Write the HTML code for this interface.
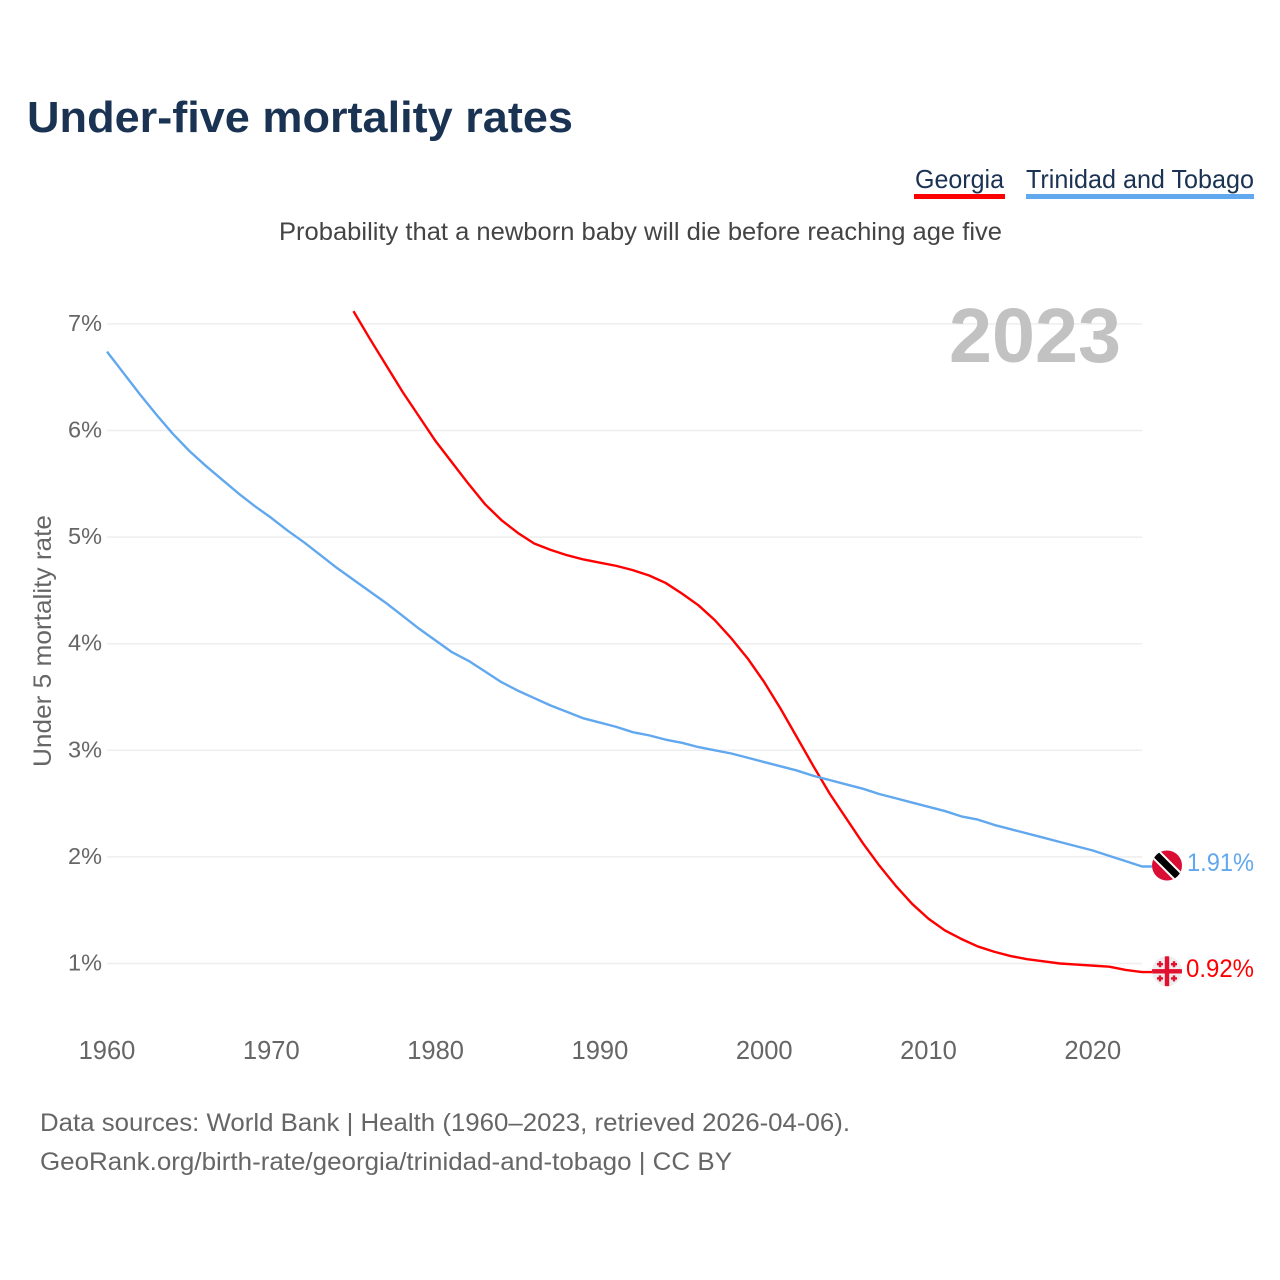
<!DOCTYPE html>
<html lang="en">
<head>
<meta charset="utf-8">
<title>Under-five mortality rates</title>
<style>
html,body{margin:0;padding:0;background:#fff;}
svg{display:block;font-family:"Liberation Sans",sans-serif;}
</style>
</head>
<body>
<svg id="chart" width="1280" height="1280" viewBox="0 0 1280 1280" xmlns="http://www.w3.org/2000/svg">
  <defs>
    <clipPath id="clip-tt"><circle cx="1167" cy="865.5" r="15"/></clipPath>
    <clipPath id="clip-ge"><circle cx="1167" cy="971.3" r="15"/></clipPath>
  </defs>
  <rect width="1280" height="1280" fill="#ffffff"/>
  <text x="27" y="132" font-size="44" font-weight="700" fill="#1a3353" textLength="546" lengthAdjust="spacingAndGlyphs">Under-five mortality rates</text>

  <g>
    <text x="915" y="188" font-size="26" fill="#1a3353" textLength="89" lengthAdjust="spacingAndGlyphs">Georgia</text>
    <rect x="914" y="194" width="91" height="5" fill="#ff0000"/>
  </g>
  <g>
    <text x="1026" y="188" font-size="26" fill="#1a3353" textLength="228" lengthAdjust="spacingAndGlyphs">Trinidad and Tobago</text>
    <rect x="1026" y="194" width="228" height="5" fill="#61a8ef"/>
  </g>

  <text x="279" y="240" font-size="25" fill="#444444" textLength="723" lengthAdjust="spacingAndGlyphs">Probability that a newborn baby will die before reaching age five</text>

  <g id="grid"></g>
  <g id="y-ticks"></g>
  <g id="x-ticks"></g>

  <text transform="translate(51 767) rotate(-90)" font-size="25" fill="#666666" textLength="252" lengthAdjust="spacingAndGlyphs">Under 5 mortality rate</text>
  <text x="949" y="362" font-size="77" font-weight="700" fill="#c2c2c2" textLength="172" lengthAdjust="spacingAndGlyphs">2023</text>

  <g id="series"></g>

  <g clip-path="url(#clip-tt)">
    <rect x="1150" y="848.5" width="34" height="34" fill="#da0d34"/>
    <line x1="1150" y1="848.5" x2="1184" y2="882.5" stroke="#ffffff" stroke-width="11"/>
    <line x1="1150" y1="848.5" x2="1184" y2="882.5" stroke="#000000" stroke-width="7"/>
  </g>
  <g clip-path="url(#clip-ge)">
    <rect x="1150" y="954" width="34" height="34" fill="#eeeeee"/>
    <rect x="1164.8" y="954" width="4.4" height="34" fill="#e2112f"/>
    <rect x="1150" y="969.1" width="34" height="4.4" fill="#e2112f"/>
    <g fill="#e2112f">
      <rect x="1157" y="963" width="6" height="2.4"/><rect x="1158.8" y="961.2" width="2.4" height="6"/>
      <rect x="1171" y="963" width="6" height="2.4"/><rect x="1172.8" y="961.2" width="2.4" height="6"/>
      <rect x="1157" y="977.2" width="6" height="2.4"/><rect x="1158.8" y="975.4" width="2.4" height="6"/>
      <rect x="1171" y="977.2" width="6" height="2.4"/><rect x="1172.8" y="975.4" width="2.4" height="6"/>
    </g>
  </g>

  <text x="1187" y="871" font-size="25" fill="#61a8ef" textLength="67" lengthAdjust="spacingAndGlyphs">1.91%</text>
  <text x="1186" y="977" font-size="25" fill="#ff0000" textLength="68" lengthAdjust="spacingAndGlyphs">0.92%</text>

  <text x="40" y="1131" font-size="25" fill="#666666" textLength="810" lengthAdjust="spacingAndGlyphs">Data sources: World Bank | Health (1960–2023, retrieved 2026-04-06).</text>
  <text x="40" y="1170" font-size="25" fill="#666666" textLength="692" lengthAdjust="spacingAndGlyphs">GeoRank.org/birth-rate/georgia/trinidad-and-tobago | CC BY</text>
</svg>
<script>
const yTickValues = [1, 2, 3, 4, 5, 6, 7];
const yTickLabels = ["1%", "2%", "3%", "4%", "5%", "6%", "7%"];
const xTickYears = [1960, 1970, 1980, 1990, 2000, 2010, 2020];
const xTickLabels = ["1960", "1970", "1980", "1990", "2000", "2010", "2020"];

const trinidadStartYear = 1960;
const trinidadValues = [
  6.74, 6.54, 6.34, 6.15, 5.97, 5.81, 5.67, 5.54, 5.41, 5.29,
  5.18, 5.06, 4.95, 4.83, 4.71, 4.60, 4.49, 4.38, 4.26, 4.14,
  4.03, 3.92, 3.84, 3.74, 3.64, 3.56, 3.49, 3.42, 3.36, 3.30,
  3.26, 3.22, 3.17, 3.14, 3.10, 3.07, 3.03, 3.00, 2.97, 2.93,
  2.89, 2.85, 2.81, 2.76, 2.72, 2.68, 2.64, 2.59, 2.55, 2.51,
  2.47, 2.43, 2.38, 2.35, 2.30, 2.26, 2.22, 2.18, 2.14, 2.10,
  2.06, 2.01, 1.96, 1.91
];

const georgiaStartYear = 1975;
const georgiaValues = [
  7.12, 6.86, 6.61, 6.36, 6.13,
  5.90, 5.70, 5.50, 5.31, 5.16, 5.04, 4.94, 4.88, 4.83, 4.79,
  4.76, 4.73, 4.69, 4.64, 4.57, 4.47, 4.36, 4.22, 4.05, 3.86,
  3.64, 3.39, 3.12, 2.85, 2.59, 2.36, 2.13, 1.92, 1.73, 1.56,
  1.42, 1.31, 1.23, 1.16, 1.11, 1.07, 1.04, 1.02, 1.00, 0.99,
  0.98, 0.97, 0.94, 0.92
];

const NS = "http://www.w3.org/2000/svg";
function xScale(year) { return 107 + (year - 1960) * 16.43; }
function yScale(value) { return 963.5 - (value - 1) * 106.6; }

const grid = document.getElementById("grid");
const yTicks = document.getElementById("y-ticks");
const xTicks = document.getElementById("x-ticks");
const series = document.getElementById("series");

yTickValues.forEach(function (v, i) {
  const line = document.createElementNS(NS, "line");
  
  
  line.setAttribute("x1", xScale(1960));
  line.setAttribute("x2", xScale(2023));
  line.setAttribute("y1", yScale(v));
  line.setAttribute("y2", yScale(v));
  line.setAttribute("stroke", "#eeeeee");
  line.setAttribute("stroke-width", "1.5");
  grid.appendChild(line);

  const label = document.createElementNS(NS, "text");
  
  
  label.setAttribute("x", 102);
  label.setAttribute("y", yScale(v) + 7);
  label.setAttribute("text-anchor", "end");
  label.setAttribute("font-size", "23.5");
  label.setAttribute("fill", "#666666");
  label.textContent = yTickLabels[i];
  yTicks.appendChild(label);
});

xTickYears.forEach(function (year, i) {
  const label = document.createElementNS(NS, "text");
  
  
  label.setAttribute("x", xScale(year));
  label.setAttribute("y", 1059);
  label.setAttribute("text-anchor", "middle");
  label.setAttribute("font-size", "25.5");
  label.setAttribute("fill", "#666666");
  label.textContent = xTickLabels[i];
  xTicks.appendChild(label);
});

function pointsFor(startYear, values) {
  const pts = values.map(function (v, i) {
    return xScale(startYear + i).toFixed(2) + "," + yScale(v).toFixed(2);
  });
  const lastY = yScale(values[values.length - 1]).toFixed(2);
  pts.push((xScale(startYear + values.length - 1) + 10).toFixed(2) + "," + lastY);
  return pts.join(" ");
}

const georgiaLine = document.createElementNS(NS, "polyline");


georgiaLine.setAttribute("points", pointsFor(georgiaStartYear, georgiaValues));
georgiaLine.setAttribute("fill", "none");
georgiaLine.setAttribute("stroke", "#ff0000");
georgiaLine.setAttribute("stroke-width", "2.4");
georgiaLine.setAttribute("stroke-linejoin", "round");
series.appendChild(georgiaLine);

const trinidadLine = document.createElementNS(NS, "polyline");


trinidadLine.setAttribute("points", pointsFor(trinidadStartYear, trinidadValues));
trinidadLine.setAttribute("fill", "none");
trinidadLine.setAttribute("stroke", "#61a8ef");
trinidadLine.setAttribute("stroke-width", "2.4");
trinidadLine.setAttribute("stroke-linejoin", "round");
series.appendChild(trinidadLine);
</script>
</body>
</html>
